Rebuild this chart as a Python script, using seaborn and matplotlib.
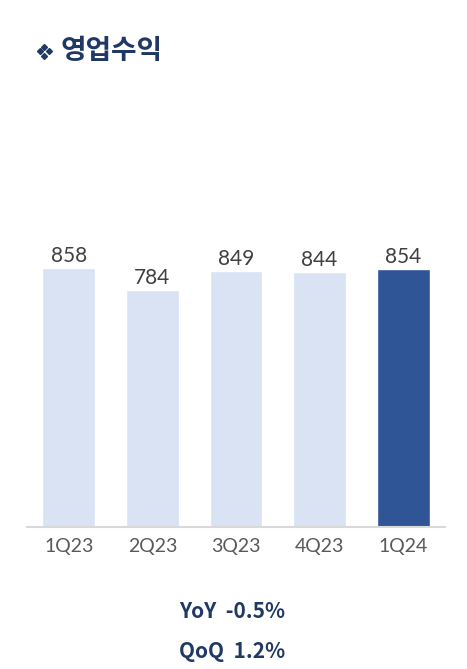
import matplotlib
matplotlib.use("Agg")
import matplotlib.pyplot as plt
import seaborn as sns
import pandas as pd
from matplotlib.lines import Line2D

categories = ["1Q23", "2Q23", "3Q23", "4Q23", "1Q24"]
values = [858, 784, 849, 844, 854]
title = "영업수익"
yoy_text = "YoY  -0.5%"
qoq_text = "QoQ  1.2%"

sns.set_theme(style="white")
plt.rcParams['font.family'] = ['Noto Sans CJK KR', 'DejaVu Sans']

df = pd.DataFrame({"q": categories, "v": values})
colors = ["#DAE3F3"] * 4 + ["#2F5597"]

fig = plt.figure(figsize=(4.67, 6.69), dpi=100)
ax = fig.add_axes([27/467, 1 - 527/669, 418/467, 302/669])
sns.barplot(data=df, x="q", y="v", hue="q", palette=colors, legend=False,
            width=0.63, ax=ax, saturation=1)
ax.set_ylim(0, 1000)
ax.set_xlim(-0.5, 4.5)
for s in ["top", "right", "left"]:
    ax.spines[s].set_visible(False)
ax.spines["bottom"].set_color("#D9D9D9")
ax.spines["bottom"].set_linewidth(1.5)
ax.set_yticks([])
ax.set_xlabel("")
ax.set_ylabel("")
ax.tick_params(axis="x", length=0, pad=8, labelsize=14, labelcolor="#595959")
for lbl in ax.get_xticklabels():
    lbl.set_family(["Lato", "DejaVu Sans"])

for i, v in enumerate(values):
    ax.text(i, v + 6, f"{v}", ha="center", va="bottom", fontsize=15,
            color="#404040", family=["Lato", "DejaVu Sans"])

# title bullet (four small diamonds)
cx, cy = 44, 51
for dx, dy in [(0, -4.5), (-4.5, 0), (4.5, 0), (0, 4.5)]:
    fig.add_artist(Line2D([(cx + dx) / 467], [1 - (cy + dy) / 669], marker="D",
                          markersize=3.0, color="#1F3864", linestyle="none",
                          transform=fig.transFigure))
fig.text(61/467, 1 - 51/669, title, ha="left", va="center", fontsize=20,
         fontweight="bold", color="#1F3864")

fig.text(232/467, 1 - 611/669, yoy_text, ha="center", va="center", fontsize=15,
         fontweight="bold", color="#1F3864")
fig.text(232/467, 1 - 651/669, qoq_text, ha="center", va="center", fontsize=15,
         fontweight="bold", color="#1F3864")

fig.savefig("out.png", dpi=100)
